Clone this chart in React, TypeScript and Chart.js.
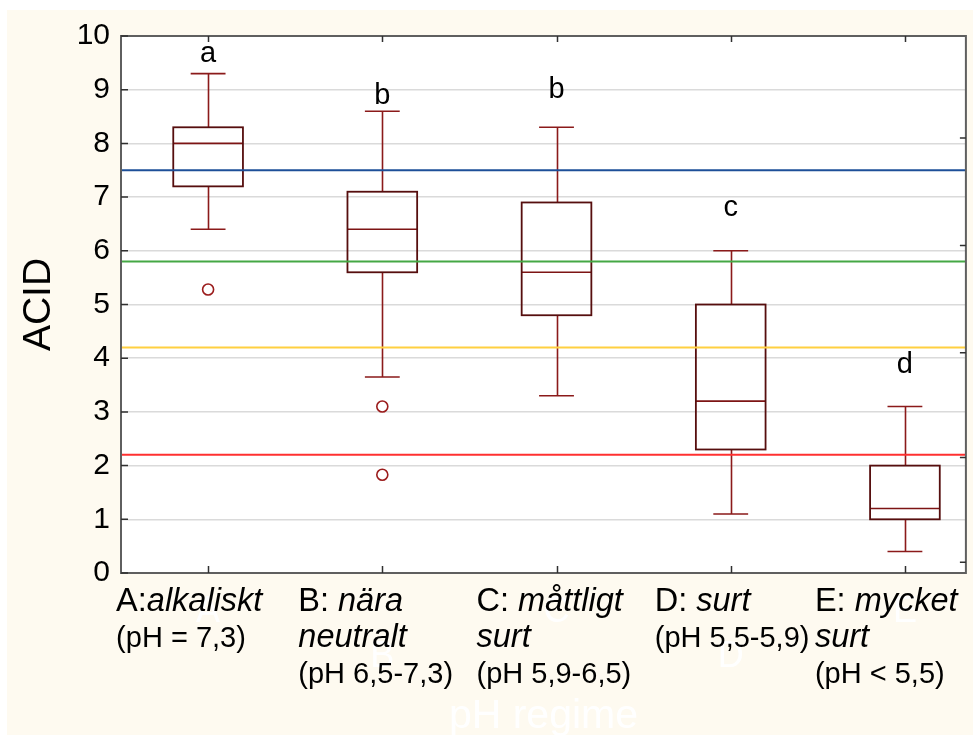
import { useEffect, useRef } from "react";
import { Chart, registerables } from "chart.js";

Chart.register(...registerables);

// ---- data ----
const categories = ["A", "B", "C", "D", "E"];
const categoryPositions = [1, 2, 3, 4, 5];
const whiskerLow = [6.4, 3.65, 3.3, 1.1, 0.4];
const quartile1 = [7.2, 5.6, 4.8, 2.3, 1.0];
const medians = [8.0, 6.4, 5.6, 3.2, 1.2];
const quartile3 = [8.3, 7.1, 6.9, 5.0, 2.0];
const whiskerHigh = [9.3, 8.6, 8.3, 6.0, 3.1];
const outlierGroups = [1, 2, 2];
const outlierValues = [5.28, 3.1, 1.83];
const groupLetters = ["a", "b", "b", "c", "d"];
const letterValues = [9.52, 8.74, 8.85, 6.65, 3.72];
const referenceLevels = [7.5, 5.8, 4.2, 2.2];
const rightTickValues = [8.1, 6.1, 4.1, 2.15, 0.2];
const yTickStep = 1;
const yMin = 0;
const yMax = 10;
const xMin = 0.5;
const xMax = 5.35;
const yTitle = "ACID";
const xTitle = "pH regime";
// each label: lines of [text, italic] segments
const categoryLabels: [string, boolean][][][] = [
  [[["A:", false], ["alkaliskt", true]], [["(pH = 7,3)", false]]],
  [[["B: ", false], ["nära", true]], [["neutralt", true]], [["(pH 6,5-7,3)", false]]],
  [[["C: ", false], ["måttligt", true]], [["surt", true]], [["(pH 5,9-6,5)", false]]],
  [[["D: ", false], ["surt", true]], [["(pH 5,5-5,9)", false]]],
  [[["E: ", false], ["mycket", true]], [["surt", true]], [["(pH < 5,5)", false]]],
];

// ---- style ----
const FONT = '"Liberation Sans", Arial, Helvetica, sans-serif';
const CREAM = "#fefaf0";
const referenceColors = ["#1d4f98", "#45a845", "#ffd040", "#ff3030"];
const BOX_EDGE = "#560e0e";
const WHISKER = "#8b1a1a";
const MEDIAN = "#7d1414";
const OUTLIER = "#9b1c1c";
const FRAME = "#5f5f5f";
const GRID = "#dadada";
const labelDx = [-92, -84, -80, -76, -90];
const BOX_HALF = 0.2;
const CAP_HALF = 0.1;
const NAME_SIZE = 32.5;
const PH_SIZE = 29;

const plotPlugin = {
  id: "boxplotPlugin",
  beforeDraw(chart: any) {
    const { ctx, chartArea: a } = chart;
    ctx.save();
    ctx.fillStyle = "#ffffff";
    ctx.fillRect(0, 0, chart.width, chart.height);
    ctx.fillStyle = CREAM;
    ctx.fillRect(7, 10, chart.width - 7, chart.height - 10);
    ctx.fillStyle = "#ffffff";
    ctx.fillRect(a.left, a.top, a.right - a.left, a.bottom - a.top);
    ctx.restore();
  },
  beforeDatasetsDraw(chart: any) {
    const { ctx } = chart;
    const xs = chart.scales.x;
    const ys = chart.scales.y;
    ctx.save();
    categoryPositions.forEach((c, i) => {
      const xc = Math.round(xs.getPixelForValue(c)) + 0.5;
      const xl = xs.getPixelForValue(c - BOX_HALF);
      const xr = xs.getPixelForValue(c + BOX_HALF);
      const cl = xs.getPixelForValue(c - CAP_HALF);
      const cr = xs.getPixelForValue(c + CAP_HALF);
      const yLo = ys.getPixelForValue(whiskerLow[i]);
      const yQ1 = ys.getPixelForValue(quartile1[i]);
      const yMed = ys.getPixelForValue(medians[i]);
      const yQ3 = ys.getPixelForValue(quartile3[i]);
      const yHi = ys.getPixelForValue(whiskerHigh[i]);
      ctx.strokeStyle = WHISKER;
      ctx.lineWidth = 1.6;
      ctx.beginPath();
      ctx.moveTo(xc, yQ3);
      ctx.lineTo(xc, yHi);
      ctx.moveTo(cl, yHi);
      ctx.lineTo(cr, yHi);
      ctx.moveTo(xc, yQ1);
      ctx.lineTo(xc, yLo);
      ctx.moveTo(cl, yLo);
      ctx.lineTo(cr, yLo);
      ctx.stroke();
      ctx.strokeStyle = MEDIAN;
      ctx.beginPath();
      ctx.moveTo(xl, yMed);
      ctx.lineTo(xr, yMed);
      ctx.stroke();
      ctx.strokeStyle = BOX_EDGE;
      ctx.lineWidth = 1.8;
      ctx.strokeRect(xl, yQ3, xr - xl, yQ1 - yQ3);
    });
    ctx.restore();
  },
  afterDraw(chart: any) {
    const { ctx, chartArea: a } = chart;
    const xs = chart.scales.x;
    const ys = chart.scales.y;
    ctx.save();
    ctx.strokeStyle = FRAME;
    ctx.lineWidth = 2;
    ctx.strokeRect(a.left, a.top, a.right - a.left, a.bottom - a.top);
    ctx.strokeStyle = "#303030";
    ctx.lineWidth = 1.5;
    ctx.beginPath();
    for (let v = yMin; v <= yMax; v += yTickStep) {
      const y = ys.getPixelForValue(v);
      ctx.moveTo(a.left, y);
      ctx.lineTo(a.left + 7, y);
    }
    categoryPositions.forEach((c) => {
      const x = Math.round(xs.getPixelForValue(c)) + 0.5;
      ctx.moveTo(x, a.bottom);
      ctx.lineTo(x, a.bottom - 7);
      ctx.moveTo(x, a.top);
      ctx.lineTo(x, a.top + 6);
    });
    rightTickValues.forEach((v) => {
      const y = ys.getPixelForValue(v);
      ctx.moveTo(a.right, y);
      ctx.lineTo(a.right - 6, y);
    });
    ctx.stroke();

    ctx.fillStyle = "#000";
    ctx.font = `29px ${FONT}`;
    ctx.textAlign = "center";
    ctx.textBaseline = "alphabetic";
    categoryPositions.forEach((c, i) => {
      ctx.fillText(groupLetters[i], xs.getPixelForValue(c), ys.getPixelForValue(letterValues[i]));
    });

    ctx.fillStyle = "#ffffff";
    ctx.font = `36px ${FONT}`;
    categoryPositions.forEach((c, i) => {
      const y = i % 2 === 0 ? a.bottom + 49 : a.bottom + 94;
      ctx.fillText(categories[i], xs.getPixelForValue(c), y);
    });
    ctx.font = `41px ${FONT}`;
    ctx.fillText(xTitle, (a.left + a.right) / 2, a.bottom + 155);

    ctx.fillStyle = "#000";
    ctx.textAlign = "left";
    categoryPositions.forEach((c, i) => {
      const x0 = xs.getPixelForValue(c) + labelDx[i];
      categoryLabels[i].forEach((line, li) => {
        let x = x0;
        const y = a.bottom + 38 + li * 36;
        const size = line[0][0].startsWith("(") ? PH_SIZE : NAME_SIZE;
        line.forEach(([text, italic]) => {
          ctx.font = `${italic ? "italic " : ""}${size}px ${FONT}`;
          ctx.fillText(text, x, y);
          x += ctx.measureText(text).width;
        });
      });
    });
    ctx.restore();
  },
};

export default function App() {
  const canvasRef = useRef<HTMLCanvasElement | null>(null);

  useEffect(() => {
    const canvas = canvasRef.current;
    if (!canvas) return;
    const datasets: any[] = referenceLevels.map((v, i) => ({
      type: "line",
      data: [
        { x: xMin, y: v },
        { x: xMax, y: v },
      ],
      borderColor: referenceColors[i],
      borderWidth: 2,
      pointRadius: 0,
      showLine: true,
      fill: false,
    }));
    datasets.push({
      type: "scatter",
      data: outlierGroups.map((g, i) => ({ x: g, y: outlierValues[i] })),
      pointStyle: "circle",
      pointRadius: 5.5,
      borderColor: OUTLIER,
      backgroundColor: "rgba(0,0,0,0)",
      borderWidth: 1.6,
    });

    const chart = new Chart(canvas, {
      type: "scatter",
      data: { datasets },
      options: {
        animation: false,
        responsive: false,
        devicePixelRatio: 1,
        events: [],
        layout: { padding: { top: 36, right: 3, left: 0, bottom: 0 } },
        plugins: {
          legend: { display: false },
          tooltip: { enabled: false },
        },
        scales: {
          x: {
            type: "linear",
            min: xMin,
            max: xMax,
            position: "bottom",
            ticks: { display: false },
            grid: { display: false },
            border: { display: false },
            afterFit: (s: any) => {
              s.height = 162;
            },
          },
          y: {
            type: "linear",
            min: yMin,
            max: yMax,
            ticks: {
              stepSize: yTickStep,
              color: "#000",
              padding: 11,
              font: { family: FONT, size: 30 },
            },
            grid: { color: GRID, lineWidth: 1.5, drawTicks: false },
            border: { display: false },
            title: {
              display: true,
              text: yTitle,
              color: "#000",
              font: { family: FONT, size: 39 },
              padding: { top: 16, bottom: 0 },
            },
            afterFit: (s: any) => {
              s.width = 121;
            },
          },
        },
      },
      plugins: [plotPlugin],
    } as any);
    return () => chart.destroy();
  }, []);

  return (
    <div style={{ position: "absolute", left: 0, top: 0, width: 973, height: 735 }}>
      <canvas ref={canvasRef} width={973} height={735} style={{ width: 973, height: 735, display: "block" }} />
    </div>
  );
}
